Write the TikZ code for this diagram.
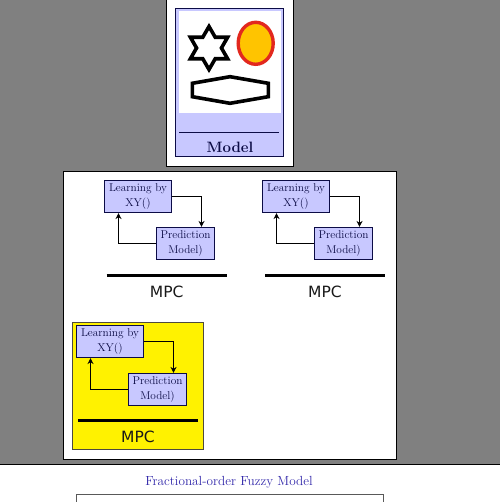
\documentclass[tikz,border=0pt]{standalone}
\usepackage{fontspec}
\newfontfamily\mpcfont{DejaVu Sans}
\usetikzlibrary{shapes.geometric,arrows.meta,calc}
\definecolor{bggray}{RGB}{128,128,128}
\definecolor{boxblue}{RGB}{200,200,255}
\definecolor{navyink}{RGB}{12,12,70}
\definecolor{titleblue}{RGB}{50,40,170}
\definecolor{sunorange}{RGB}{255,196,0}
\definecolor{ringred}{RGB}{226,40,30}
\tikzset{
  x=1pt,y=-1pt,
  panel/.style={draw=black,line width=1.1pt,fill=white},
  blockbox/.style={draw=navyink,line width=1.1pt,fill=boxblue,text=navyink,inner sep=0pt,align=center,
    font=\fontsize{11.3}{15}\selectfont},
  flow/.style={draw=black,line width=1.1pt,-{Stealth[length=6pt,width=6pt]}},
  rulebar/.style={line width=3pt,black},
  mpclabel/.style={inner sep=0pt,font=\mpcfont\fontsize{15.5}{18}\selectfont,text=black!90},
  thickshape/.style={line width=3.6pt,line join=miter,draw=black,fill=white},
}
\newcommand{\mpcblock}[8]{%
  % #1 prefix, #2 lx centre, #3 ly centre, #4 px centre, #5 py centre, #6 bar left, #7 bar y, #8 label y
  \node[blockbox,minimum width=67pt,minimum height=32pt] (#1learn) at (#2,#3) {Learning by\\XY()};
  \node[blockbox,minimum width=58pt,minimum height=32pt] (#1pred) at (#4,#5) {Prediction\\Model)};
  \draw[flow] (#1learn.east) -| ([xshift=16pt]#1pred.north);
  \draw[flow] (#1pred.west) -| ([xshift=-19.5pt]#1learn.south);
  \coordinate (#1barl) at (#6,#7);
  \coordinate (#1barr) at ($(#6,#7)+(120,0)$);
  \draw[rulebar] (#1barl) -- (#1barr);
  \node[mpclabel] (#1mpc) at ($(#6,#8)+(60,0)$) {MPC};
}
\begin{document}
\begin{tikzpicture}
\useasboundingbox (0,0) rectangle (500,502);
\clip (0,0) rectangle (500,502);
\fill[white] (0,0) rectangle (500,502);
\fill[bggray] (0,0) rectangle (500,464);
\draw[black,line width=1pt] (0,464.5) -- (500,464.5);

% Model card
\draw[panel] (166.5,-5) rectangle (293.5,166.5);
\node[draw=navyink,line width=1pt,fill=boxblue,minimum width=108pt,minimum height=148pt,inner sep=0pt] (card) at (229.5,82.5) {};
\fill[white] (178.5,11) rectangle (281,113);
\node[star,star points=6,star point ratio=1.73,thickshape,minimum size=43pt,inner sep=0pt] (hexstar) at (209,48) {};
\node[ellipse,draw=ringred,line width=3.4pt,fill=sunorange,minimum width=35pt,minimum height=42pt,inner sep=0pt] (sun) at (255.7,43.3) {};
\draw[thickshape] (192.3,83.3) -- (230,76.7) -- (268.3,83.3) -- (268.3,96.7) -- (230,103.3) -- (192.3,96.7) -- cycle;
\draw[navyink,line width=1pt] (179,132.5) -- (279,132.5);
\node[inner sep=0pt,text=navyink,font=\fontsize{15}{18}\selectfont\bfseries] (modellabel) at (230,147) {Model};

% MPC panel
\draw[panel] (63.5,171.5) rectangle (396.5,459.5);
\mpcblock{a}{138}{196.5}{185.5}{243.5}{106.7}{275}{291.7}
\mpcblock{b}{296}{196.5}{343.5}{243.5}{265}{275}{291.7}
\node[draw=black!80!yellow,line width=1.1pt,fill=yellow,minimum width=131pt,minimum height=127pt,inner sep=0pt] (hl) at (138,386) {};
\mpcblock{c}{110}{341.5}{157.5}{389.5}{78}{420.3}{436.7}

% Bottom panel
\node[inner sep=0pt,text=titleblue,font=\fontsize{13.2}{16}\selectfont] (fuzzy) at (229,482.7) {Fractional-order Fuzzy Model};
\draw[black!65,line width=1pt] (76.5,510) -- (76.5,494.5) -- (383.5,494.5) -- (383.5,510);
\end{tikzpicture}
\end{document}
